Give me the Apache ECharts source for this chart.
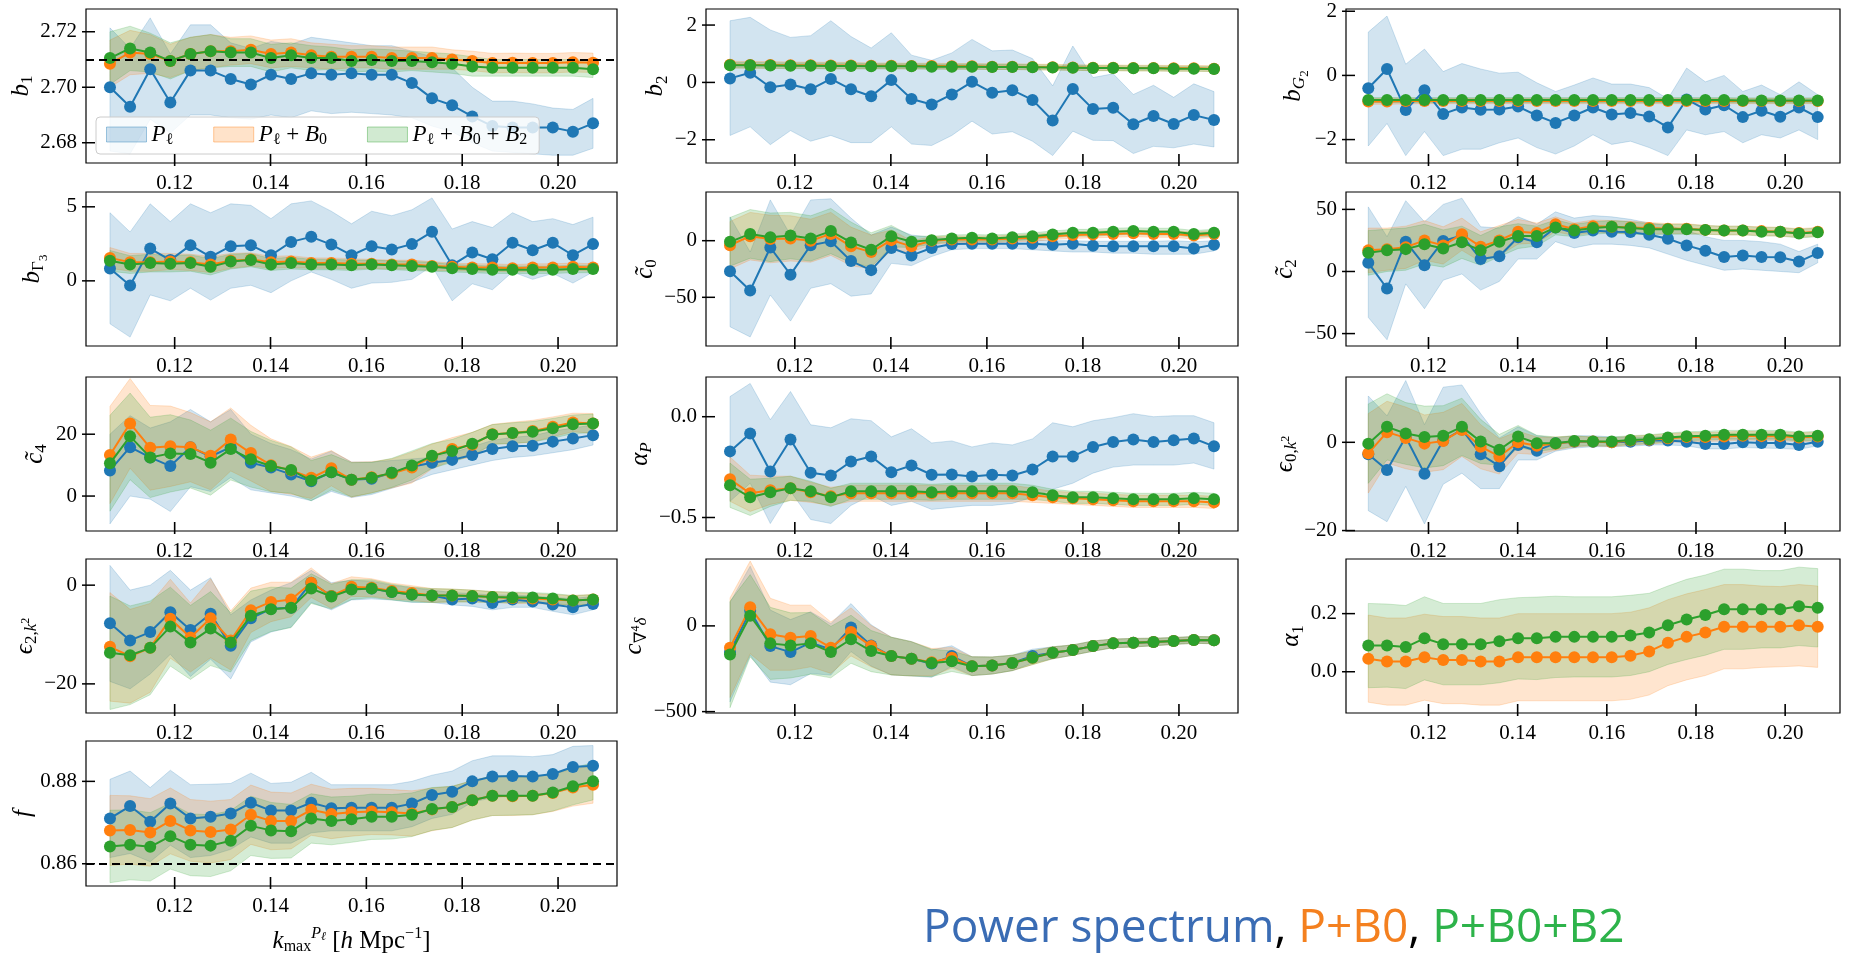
<!DOCTYPE html>
<html>
<head>
<meta charset="utf-8">
<script src="https://cdn.jsdelivr.net/npm/echarts@6/dist/echarts.min.js"></script>
<style>
html, body { margin: 0; background: #fff; }
#main { width: 1872px; height: 956px; }
</style>
</head>
<body>
<div id="main"></div>
<script>
// k_max values (h/Mpc), shared by every panel
var K = [0.1065,0.1107,0.1149,0.1191,0.1233,0.1275,0.1317,0.1359,0.1401,0.1443,0.1485,0.1527,0.1569,0.1611,0.1653,0.1695,0.1737,0.1779,0.1821,0.1863,0.1905,0.1947,0.1989,0.2031,0.2073];
var xTicks = [0.12, 0.14, 0.16, 0.18, 0.20];

// ---- b1
var b1Ticks = [2.68, 2.70, 2.72];
var b1True = 2.707;
var b1P   = [2.700,2.693,2.7065,2.6945,2.706,2.706,2.703,2.701,2.7045,2.703,2.705,2.7045,2.705,2.7045,2.7045,2.7015,2.696,2.6935,2.6895,2.686,2.6855,2.6855,2.6855,2.684,2.687];
var b1Plo = [2.677,2.676,2.6885,2.6835,2.690,2.690,2.689,2.6885,2.690,2.689,2.6915,2.6905,2.691,2.6905,2.690,2.689,2.686,2.684,2.680,2.677,2.6765,2.676,2.6755,2.6755,2.678];
var b1Phi = [2.7214,2.714,2.725,2.712,2.7225,2.7225,2.716,2.714,2.7165,2.7155,2.718,2.717,2.716,2.715,2.715,2.713,2.711,2.707,2.700,2.695,2.695,2.694,2.6925,2.692,2.696];
var b1B0  = [2.7085,2.7125,2.712,2.7095,2.712,2.713,2.713,2.7135,2.712,2.7125,2.7115,2.711,2.711,2.711,2.7105,2.7105,2.7105,2.710,2.7095,2.7087,2.7088,2.7087,2.7087,2.709,2.7088];
var b1B0e = [0.0085,0.008,0.007,0.006,0.006,0.006,0.005,0.005,0.005,0.005,0.0045,0.0045,0.004,0.004,0.004,0.004,0.004,0.0035,0.0035,0.0035,0.0035,0.0035,0.0035,0.0035,0.0035];
var b1B2  = [2.7105,2.714,2.7125,2.7095,2.712,2.713,2.7125,2.7125,2.7105,2.7115,2.7105,2.7105,2.7095,2.7098,2.7095,2.7095,2.709,2.7085,2.7075,2.707,2.707,2.707,2.707,2.707,2.7065];
var b1B2e = [0.0095,0.008,0.007,0.0065,0.006,0.006,0.005,0.005,0.005,0.0045,0.0045,0.004,0.004,0.004,0.004,0.0035,0.0035,0.0035,0.0035,0.003,0.003,0.003,0.003,0.003,0.003];

// ---- b2
var b2Ticks = [-2, 0, 2];
var b2P   = [0.14,0.34,-0.17,-0.07,-0.24,0.12,-0.24,-0.48,0.08,-0.58,-0.77,-0.42,0.02,-0.36,-0.27,-0.61,-1.33,-0.23,-0.93,-0.88,-1.46,-1.17,-1.45,-1.14,-1.31];
var b2Plo = [-1.85,-1.55,-2.17,-1.68,-2.05,-1.85,-2.1,-2.1,-1.55,-2.15,-2.2,-1.85,-1.35,-1.8,-1.72,-2.05,-2.55,-1.7,-2.02,-2.03,-2.48,-2.23,-2.28,-2.15,-2.25];
var b2Phi = [2.15,2.27,1.83,1.57,1.63,2.15,1.6,1.2,1.73,0.95,0.77,1.03,1.5,1.1,1.13,0.83,-0.12,1.27,0.17,0.3,-0.42,-0.1,-0.52,-0.05,-0.32];
var b2B0  = [0.62,0.61,0.61,0.6,0.6,0.59,0.59,0.58,0.58,0.57,0.57,0.56,0.56,0.55,0.55,0.54,0.53,0.52,0.51,0.51,0.5,0.5,0.49,0.49,0.48];
var b2B0e = [0.12,0.12,0.12,0.11,0.11,0.11,0.11,0.1,0.1,0.1,0.1,0.1,0.1,0.1,0.1,0.1,0.1,0.1,0.1,0.1,0.1,0.1,0.1,0.1,0.1];
var b2B2  = [0.6,0.6,0.59,0.58,0.58,0.57,0.57,0.56,0.56,0.56,0.55,0.55,0.55,0.54,0.54,0.53,0.52,0.51,0.5,0.5,0.49,0.49,0.48,0.48,0.47];
var b2B2e = [0.1,0.1,0.1,0.1,0.1,0.1,0.1,0.09,0.09,0.09,0.09,0.09,0.09,0.09,0.09,0.09,0.09,0.09,0.09,0.09,0.09,0.09,0.09,0.09,0.09];

// ---- bG2
var bG2Ticks = [-2, 0, 2];
var bG2P   = [-0.4,0.2,-1.08,-0.46,-1.2,-1.0,-1.07,-1.06,-0.97,-1.25,-1.48,-1.25,-1.0,-1.22,-1.17,-1.28,-1.62,-0.75,-1.06,-0.93,-1.3,-1.1,-1.29,-1.0,-1.3];
var bG2Plo = [-2.2,-1.5,-2.5,-1.75,-2.5,-2.3,-2.3,-2.1,-1.95,-2.25,-2.45,-2.2,-1.85,-2.15,-2.05,-2.25,-2.5,-1.7,-1.85,-1.75,-2.1,-1.85,-1.95,-1.7,-2.0];
var bG2Phi = [1.35,1.85,0.35,0.82,0.12,0.37,0.2,0.07,0.1,-0.23,-0.5,-0.3,-0.08,-0.27,-0.27,-0.38,-0.73,0.23,-0.2,0.0,-0.5,-0.3,-0.6,-0.2,-0.6];
var bG2B0  = [-0.81,-0.81,-0.8,-0.8,-0.8,-0.8,-0.8,-0.8,-0.8,-0.8,-0.8,-0.8,-0.8,-0.8,-0.8,-0.8,-0.8,-0.8,-0.8,-0.8,-0.8,-0.8,-0.8,-0.8,-0.8];
var bG2B0e = [0.09,0.09,0.09,0.08,0.08,0.08,0.08,0.08,0.08,0.08,0.08,0.08,0.08,0.08,0.08,0.08,0.08,0.08,0.08,0.08,0.08,0.08,0.08,0.08,0.08];
var bG2B2  = [-0.77,-0.77,-0.77,-0.77,-0.77,-0.77,-0.77,-0.77,-0.77,-0.77,-0.77,-0.77,-0.77,-0.77,-0.77,-0.77,-0.77,-0.77,-0.77,-0.77,-0.78,-0.78,-0.78,-0.78,-0.78];
var bG2B2e = [0.08,0.08,0.08,0.08,0.08,0.08,0.08,0.08,0.08,0.08,0.08,0.08,0.08,0.08,0.08,0.08,0.08,0.08,0.08,0.08,0.08,0.08,0.08,0.08,0.08];

// ---- bGamma3
var bGa3Ticks = [0, 5];
var bGa3P   = [0.83,-0.32,2.18,1.4,2.41,1.62,2.34,2.41,1.73,2.63,2.97,2.45,1.73,2.34,2.12,2.48,3.31,1.06,1.91,1.46,2.57,2.07,2.57,1.73,2.48];
var bGa3Plo = [-2.9,-3.8,-0.95,-1.35,-0.5,-1.3,-0.5,-0.3,-0.8,0.0,0.6,0.1,-0.5,-0.15,-0.1,0.1,1.0,-1.35,-0.2,-0.6,0.6,0.1,0.5,-0.15,0.6];
var bGa3Phi = [4.6,3.3,5.2,4.0,5.2,4.6,5.2,5.1,4.2,5.2,5.4,4.7,3.85,4.7,4.4,4.8,5.6,3.5,4.0,3.6,4.6,4.0,4.2,3.8,4.3];
var bGa3B0  = [1.55,1.25,1.25,1.3,1.25,1.1,1.35,1.45,1.25,1.3,1.2,1.2,1.15,1.15,1.1,1.1,1.0,0.95,0.9,0.9,0.85,0.9,0.9,0.95,0.9];
var bGa3B0e = [0.7,0.6,0.6,0.55,0.55,0.55,0.5,0.45,0.4,0.4,0.35,0.35,0.35,0.3,0.3,0.3,0.3,0.25,0.25,0.25,0.25,0.25,0.25,0.25,0.25];
var bGa3B2  = [1.35,1.1,1.2,1.15,1.2,0.95,1.3,1.4,1.1,1.2,1.1,1.1,1.05,1.1,1.05,1.0,0.95,0.85,0.8,0.75,0.75,0.75,0.75,0.8,0.8];
var bGa3B2e = [0.7,0.6,0.6,0.55,0.55,0.55,0.5,0.45,0.4,0.4,0.35,0.35,0.35,0.3,0.3,0.3,0.3,0.25,0.25,0.25,0.25,0.25,0.25,0.25,0.25];

// ---- c0
var c0Ticks = [-50, 0];
var c0P   = [-27,-44,-6,-30,-4,-0.6,-18,-26,-6.5,-13,-6.5,-3,-2.6,-2.6,-2.6,-2.6,-3.5,-2.6,-4.4,-5,-5,-5,-5,-6.8,-3.5];
var c0Plo = [-76,-85,-48,-71,-42,-38,-49,-47,-20,-22,-14,-8,-7,-7,-7,-8,-9,-10,-10,-11,-11,-12,-12,-12,-9];
var c0Phi = [21,-10,36,5,36,37,20,5,12,5,3,2,1.5,1,1,1,0,0,-0.5,-0.5,-0.5,-0.5,0,-1,0];
var c0B0  = [-4,4,1.5,2,0,6,-5,-10,0.5,-5,0,1,1,1,2,2.5,4,5,5.5,6,6.5,6,6,4.5,6];
var c0B0e = [21,21,21,20,19,19,17,15,9,5,3.5,3,3,3,3,3,3,3,3,3,3,3,3,3,3];
var c0B2  = [-1,6,3,4.5,2,8.5,-1.5,-8,4,-1,0.5,2,2.5,2,3,4,5.5,7,7,8,8.5,8,8,6,7];
var c0B2e = [21.5,21.5,21.5,20.5,20,20,18,15,9.5,5,3.5,3,3,3,3,3,3,3,3,3,3,3,3,3,3];

// ---- c2
var c2Ticks = [-50, 0, 50];
var c2P   = [7,-13.7,24,5,24.6,29,10,12.3,27.6,23.5,35.5,31,33,32,31.7,29.5,26.4,21,16.7,11.7,12.8,11.7,11.5,8,14.8];
var c2Plo = [-37,-55,-10,-30,-7,-2,-15,-8,10,10,24,19,22,22,21,19,14,9,5,1,2,1,0,-1,7];
var c2Phi = [52,28,57,40,54,59,36,35,44,38,48,43,45,44,42,39,37,33,28,25,25,24,22,16,22];
var c2B0  = [17,18,19.5,25,21,30,20,25,32,31,38,34,36.5,36,35.5,35,34.5,34.5,33.5,33,33,32.5,32,31,32];
var c2B0e = [18,17,17,16,15,13,12,12,10,8,6,5,5,5,5,4.5,4,4,3.5,3.5,3.5,3.5,3.5,3.5,3.5];
var c2B2  = [15,17,18,22,18.5,23.5,17,24,28.5,28.5,35.5,33,35,36,35,34,34,34,33.5,33,33,32,32,30.5,31.5];
var c2B2e = [18,17,17,16,15,13,12,12,10,8,6,5,5,5,5,4.5,4,4,3.5,3.5,3.5,3.5,3.5,3.5,3.5];

// ---- c4
var c4Ticks = [0, 20];
var c4P   = [8.3,15.8,12.5,9.7,15.8,12.8,15.8,10.8,9.2,7.0,4.8,7.7,5.3,5.6,7.5,9.5,10.8,11.7,13.3,15.2,16.1,16.3,17.6,18.6,19.7];
var c4Plo = [-9,0,-1,-5,3,1.5,6,2,1,0,-1.5,1.5,-0.5,0.5,2.5,4.5,7,8.5,10,11.5,12.5,13,14,15,16.5];
var c4Phi = [20,26,22,24,28,24,28,20,17,15,12,14.5,11,11,11.5,12,12.5,14,16,18,19,19.5,21,22,23];
var c4B0  = [13.3,23.5,15.6,16.1,15.8,13,18.3,13.9,10,8.3,5.9,9,5.3,6.1,7.3,9.2,12.8,15.2,16.6,20,20.4,21,22.4,23.8,23.5];
var c4B0e = [15.7,14.5,13.7,13,11.2,11,10.2,9,8.5,7.7,6.7,5.7,5.7,5,4.7,5,4,3.7,4,3.2,3.5,3.5,3.2,3,3.2];
var c4B2  = [10.6,19.3,12.5,13.8,13.6,10.8,15.2,11.9,9.7,8.4,5,7.7,5.3,5.9,7.5,9.9,13,14.6,16.9,19.9,20.4,20.8,21.9,23.2,23.5];
var c4B2e = [15.5,14,13,12.5,11,10.5,10,9,8.3,7.5,6.5,5.7,5.5,5,4.7,4.7,4,3.7,3.7,3.2,3.3,3.3,3.2,3,3];

// ---- alpha_P
var aPTicks = [-0.5, 0.0];
var aPP   = [-0.172,-0.083,-0.272,-0.113,-0.278,-0.292,-0.222,-0.197,-0.275,-0.242,-0.288,-0.287,-0.297,-0.288,-0.292,-0.262,-0.197,-0.197,-0.15,-0.125,-0.113,-0.125,-0.117,-0.108,-0.147];
var aPPlo = [-0.42,-0.33,-0.53,-0.37,-0.51,-0.53,-0.44,-0.39,-0.44,-0.42,-0.46,-0.45,-0.44,-0.44,-0.43,-0.4,-0.36,-0.33,-0.28,-0.25,-0.24,-0.24,-0.24,-0.23,-0.26];
var aPPhi = [0.1,0.165,-0.015,0.125,-0.04,-0.055,-0.01,-0.02,-0.1,-0.06,-0.13,-0.12,-0.15,-0.13,-0.14,-0.11,-0.03,-0.05,-0.02,-0.005,0.015,0.0,0.005,0.005,-0.03];
var aPB0  = [-0.31,-0.38,-0.365,-0.355,-0.375,-0.395,-0.38,-0.38,-0.38,-0.38,-0.38,-0.38,-0.38,-0.38,-0.38,-0.39,-0.4,-0.405,-0.41,-0.415,-0.42,-0.42,-0.42,-0.42,-0.425];
var aPB0e = [0.11,0.09,0.07,0.06,0.05,0.045,0.04,0.04,0.04,0.04,0.04,0.04,0.04,0.04,0.04,0.035,0.03,0.03,0.03,0.03,0.03,0.03,0.03,0.03,0.03];
var aPB2  = [-0.34,-0.4,-0.375,-0.355,-0.37,-0.4,-0.37,-0.37,-0.37,-0.37,-0.375,-0.37,-0.37,-0.37,-0.37,-0.375,-0.39,-0.4,-0.4,-0.405,-0.41,-0.41,-0.41,-0.405,-0.41];
var aPB2e = [0.11,0.09,0.07,0.06,0.05,0.045,0.04,0.04,0.04,0.04,0.04,0.04,0.04,0.04,0.04,0.035,0.03,0.03,0.03,0.03,0.03,0.03,0.03,0.03,0.03];

// ---- eps_{0,k^2}
var e0Ticks = [-20, 0];
var e0P   = [-2.7,-6.3,1.2,-7.1,0.4,2.9,-2.7,-5.4,-0.6,-1.9,-0.2,0.15,0.15,0,0.15,0.4,0.4,0.15,-0.4,-0.4,0,-0.15,-0.15,-0.6,0.15];
var e0Plo = [-15.5,-18,-10,-18.5,-9.5,-7,-10.5,-10.5,-4,-4,-2,-1.3,-1,-1,-0.9,-0.6,-0.6,-0.8,-1.5,-1.5,-1.2,-1.3,-1.4,-1.6,-0.8];
var e0Phi = [10.5,6,14,4,12.5,13,6.5,1,3.5,1.5,1.0,1.5,1.5,1.2,1.2,1.2,1.3,1.3,1.0,1.0,1.0,1.0,1.0,0.7,1.0];
var e0B0  = [-2.5,2.3,1.0,-0.3,0.3,2.8,-1.0,-3.2,0.0,-0.8,-0.3,0.2,0.2,0.0,0.4,0.6,0.9,1.2,1.2,1.3,1.5,1.4,1.4,1.1,1.3];
var e0B0e = [9,7,7,6.5,6.5,6,5,4,2.5,2,1.5,1.2,1,1,1,1,1,1,1,1,1,1,1,1,1];
var e0B2  = [-0.3,3.5,2.0,1.2,1.5,3.5,0.2,-1.7,1.3,-0.2,-0.2,0.3,0.2,0.2,0.5,0.7,1.1,1.4,1.5,1.7,1.7,1.7,1.7,1.3,1.5];
var e0B2e = [9,7.5,7,7,6.8,6.5,5,3.5,2.5,1.8,1.4,1.2,1,1,1,1,1,1,1,1,1,1,1,1,1];

// ---- eps_{2,k^2}
var e2Ticks = [-20, 0];
var e2P   = [-7.7,-11.2,-9.5,-5.5,-9.1,-5.8,-12.3,-6.7,-4.8,-4.6,0.5,-2.2,-0.7,-0.7,-1.4,-1.9,-2.1,-2.9,-2.7,-3.6,-2.9,-3.3,-3.9,-4.5,-3.8];
var e2Plo = [-19.5,-21,-18,-14,-18.5,-15,-19,-11.5,-9.5,-8.5,-3.5,-5,-3,-2.8,-3,-3.5,-3.5,-4,-4.3,-5,-4.5,-4.5,-5.3,-6,-5];
var e2Phi = [4,-1,0,3,-1,1.5,-6,-3,-1,0.5,3,0.5,1,0.8,0,-0.5,-1,-1.5,-1.7,-2,-2,-2.2,-2.5,-2.7,-2.3];
var e2B0  = [-12.5,-14.4,-12.7,-6.8,-10.6,-6.7,-11.2,-5.1,-3.4,-2.9,0.5,-2.2,-0.3,-0.5,-1.2,-1.6,-2.1,-2.1,-2.2,-2.4,-2.6,-2.7,-2.9,-3.1,-2.9];
var e2B0e = [11,9.5,9,8,7,8,6,4.5,4,3.5,3,2.5,2,1.8,1.6,1.5,1.4,1.3,1.2,1.1,1.1,1,1,1,1];
var e2B2  = [-13.7,-14.2,-12.7,-8.4,-11.6,-8.8,-11.6,-6.2,-4.9,-4.6,-0.7,-2.3,-0.9,-0.7,-1.4,-1.9,-2.1,-2.1,-2.2,-2.4,-2.5,-2.5,-2.7,-3.1,-2.9];
var e2B2e = [11.5,10,9.5,8,7.5,7.5,6,5,4.5,4,3,2.5,2,1.8,1.6,1.5,1.4,1.3,1.2,1.1,1.1,1,1,1,1];

// ---- c_{nabla^4 delta}
var cdTicks = [-500, 0];
var cdP   = [-153,88,-118,-153,-98,-137,-10,-114,-176,-192,-220,-176,-235,-231,-216,-176,-157,-141,-118,-102,-98,-94,-88,-82,-84];
var cdPlo = [-443,-172,-328,-343,-278,-287,-150,-234,-286,-292,-300,-236,-290,-281,-261,-216,-192,-171,-148,-127,-123,-116,-108,-102,-104];
var cdPhi = [137,348,92,37,82,13,130,6,-66,-92,-140,-116,-180,-181,-171,-136,-122,-111,-88,-77,-73,-72,-68,-62,-64];
var cdB0  = [-127,108,-49,-69,-59,-127,-35,-118,-176,-192,-212,-186,-235,-231,-216,-186,-157,-141,-118,-102,-98,-94,-88,-82,-84];
var cdB0e = [290,270,210,190,180,150,140,120,110,100,80,60,55,50,45,40,35,30,30,25,25,22,20,20,20];
var cdB2  = [-167,59,-102,-114,-102,-153,-78,-147,-176,-192,-216,-206,-235,-231,-216,-186,-157,-141,-118,-102,-98,-94,-88,-82,-84];
var cdB2e = [310,240,210,190,180,150,140,120,110,100,80,60,55,50,45,40,35,30,30,25,25,22,20,20,20];

// ---- alpha_1 (no power-spectrum-only fit)
var a1Ticks = [0.0, 0.2];
var a1B0  = [0.045,0.035,0.035,0.05,0.04,0.04,0.035,0.035,0.05,0.05,0.05,0.05,0.05,0.05,0.055,0.07,0.1,0.12,0.135,0.155,0.155,0.155,0.155,0.16,0.155];
var a1B0e = [0.15,0.15,0.15,0.148,0.15,0.15,0.15,0.15,0.15,0.15,0.15,0.15,0.15,0.15,0.15,0.15,0.148,0.148,0.148,0.145,0.145,0.14,0.138,0.14,0.14];
var a1B2  = [0.09,0.09,0.085,0.115,0.095,0.095,0.095,0.105,0.115,0.115,0.12,0.12,0.12,0.12,0.125,0.135,0.16,0.18,0.195,0.215,0.215,0.215,0.215,0.225,0.22];
var a1B2e = [0.145,0.143,0.143,0.143,0.14,0.14,0.14,0.143,0.14,0.142,0.14,0.138,0.138,0.138,0.138,0.135,0.135,0.138,0.138,0.138,0.138,0.133,0.133,0.135,0.135];

// ---- f
var fTicks = [0.86, 0.88];
var fTrue = 0.8613;
var fP   = [0.871,0.874,0.8702,0.8746,0.871,0.8714,0.8722,0.8748,0.8729,0.8729,0.8748,0.8735,0.8736,0.8736,0.8736,0.8746,0.8767,0.8775,0.88,0.8812,0.8813,0.8812,0.8818,0.8835,0.8838];
var fPlo = [0.8615,0.8625,0.8605,0.8645,0.8615,0.862,0.8635,0.8665,0.865,0.865,0.8675,0.868,0.868,0.868,0.868,0.869,0.871,0.872,0.875,0.876,0.8765,0.8765,0.877,0.8785,0.879];
var fPhi = [0.8805,0.8825,0.8785,0.8827,0.8792,0.8793,0.8795,0.882,0.8795,0.8798,0.8822,0.8792,0.8792,0.8792,0.8792,0.88,0.8815,0.8825,0.885,0.8862,0.8862,0.886,0.8865,0.8885,0.8887];
var fB0  = [0.8681,0.8682,0.8676,0.8704,0.8681,0.8677,0.8683,0.8719,0.8704,0.8704,0.8731,0.8721,0.8725,0.8727,0.8725,0.8722,0.8732,0.8738,0.8754,0.8765,0.8764,0.8765,0.8772,0.8785,0.8792];
var fB0e = [0.0085,0.0083,0.0082,0.008,0.0075,0.0075,0.0073,0.0072,0.007,0.0068,0.0062,0.006,0.0058,0.0056,0.0055,0.0055,0.0052,0.005,0.0048,0.0048,0.0047,0.0046,0.0045,0.0045,0.0045];
var fB2  = [0.8642,0.8646,0.8641,0.8667,0.8646,0.8644,0.8656,0.8692,0.8681,0.8679,0.871,0.8704,0.8708,0.8714,0.8714,0.8719,0.8733,0.8738,0.8754,0.8765,0.8765,0.8765,0.8773,0.8788,0.88];
var fB2e = [0.0088,0.0085,0.0083,0.008,0.0075,0.0075,0.0073,0.0072,0.0068,0.0065,0.006,0.0058,0.0056,0.0055,0.0054,0.0053,0.0052,0.005,0.0048,0.0048,0.0047,0.0046,0.0045,0.0045,0.0045];

// ------------------------------------------------------------------
var SERIF = "'Liberation Serif', 'DejaVu Serif', serif";
var COLORS = { P: '#1f77b4', B0: '#ff7f0e', B2: '#2ca02c' };
var NAMES = { P: 'P', B0: 'P+B0', B2: 'P+B0+B2' };
var X_MIN = 0.1015, X_MAX = 0.2123;

var colLeft = [86, 706, 1346];
var colWidth = [531, 532, 494];
var rowTop = [9, 192, 377, 559, 741];
var rowHeight = 154;

var panels = [
  { r: 0, c: 0, name: '{i|b}{s|1}', gap: 46, min: 2.6727, max: 2.7282, ticks: b1Ticks, dec: 2,
    P: [b1P, b1Plo, b1Phi], B0: [b1B0, b1B0e], B2: [b1B2, b1B2e], ref: b1True },
  { r: 0, c: 1, name: '{i|b}{s|2}', gap: 17, min: -2.81, max: 2.56, ticks: b2Ticks, dec: 0,
    P: [b2P, b2Plo, b2Phi], B0: [b2B0, b2B0e], B2: [b2B2, b2B2e] },
  { r: 0, c: 2, name: '{i|b}{si|G}{ss|2}', gap: 27, min: -2.73, max: 2.07, ticks: bG2Ticks, dec: 0,
    P: [bG2P, bG2Plo, bG2Phi], B0: [bG2B0, bG2B0e], B2: [bG2B2, bG2B2e] },
  { r: 1, c: 0, name: '{i|b}{s|Γ}{ss|3}', gap: 36, min: -4.4, max: 6.0, ticks: bGa3Ticks, dec: 0,
    P: [bGa3P, bGa3Plo, bGa3Phi], B0: [bGa3B0, bGa3B0e], B2: [bGa3B2, bGa3B2e] },
  { r: 1, c: 1, name: '{i|c\u0303}{s|0}', gap: 31, min: -93, max: 43, ticks: c0Ticks, dec: 0,
    P: [c0P, c0Plo, c0Phi], B0: [c0B0, c0B0e], B2: [c0B2, c0B2e] },
  { r: 1, c: 2, name: '{i|c\u0303}{s|2}', gap: 26, min: -60, max: 64, ticks: c2Ticks, dec: 0,
    P: [c2P, c2Plo, c2Phi], B0: [c2B0, c2B0e], B2: [c2B2, c2B2e] },
  { r: 2, c: 0, name: '{i|c\u0303}{s|4}', gap: 36, min: -11.3, max: 38.5, ticks: c4Ticks, dec: 0,
    P: [c4P, c4Plo, c4Phi], B0: [c4B0, c4B0e], B2: [c4B2, c4B2e] },
  { r: 2, c: 1, name: '{i|α}{si|P}', gap: 31, min: -0.567, max: 0.197, ticks: aPTicks, dec: 1,
    P: [aPP, aPPlo, aPPhi], B0: [aPB0, aPB0e], B2: [aPB2, aPB2e] },
  { r: 2, c: 2, name: '{i|ϵ}{s|0,}{si|k}{sp|2}', gap: 27, min: -20.1, max: 14.8, ticks: e0Ticks, dec: 0,
    P: [e0P, e0Plo, e0Phi], B0: [e0B0, e0B0e], B2: [e0B2, e0B2e] },
  { r: 3, c: 0, name: '{i|ϵ}{s|2,}{si|k}{sp|2}', gap: 40, min: -25.9, max: 5.3, ticks: e2Ticks, dec: 0,
    P: [e2P, e2Plo, e2Phi], B0: [e2B0, e2B0e], B2: [e2B2, e2B2e] },
  { r: 3, c: 1, name: '{i|c}{s|∇}{sp|4}{si|δ}', gap: 33, min: -508, max: 390, ticks: cdTicks, dec: 0,
    P: [cdP, cdPlo, cdPhi], B0: [cdB0, cdB0e], B2: [cdB2, cdB2e] },
  { r: 3, c: 2, name: '{i|α}{s|1}', gap: 27, min: -0.142, max: 0.388, ticks: a1Ticks, dec: 1,
    P: null, B0: [a1B0, a1B0e], B2: [a1B2, a1B2e] },
  { r: 4, c: 0, name: '{i|f}', gap: 44, min: 0.8546, max: 0.8898, ticks: fTicks, dec: 2,
    P: [fP, fPlo, fPhi], B0: [fB0, fB0e], B2: [fB2, fB2e], ref: fTrue, xname: true }
];

var nameRich = {
  i:  { fontFamily: SERIF, fontSize: 25, fontStyle: 'italic', color: '#000' },
  s:  { fontFamily: SERIF, fontSize: 17, color: '#000', padding: [13, 0, 0, 0] },
  si: { fontFamily: SERIF, fontSize: 17, fontStyle: 'italic', color: '#000', padding: [13, 0, 0, 0] },
  ss: { fontFamily: SERIF, fontSize: 13, color: '#000', padding: [22, 0, 0, 0] },
  sp: { fontFamily: SERIF, fontSize: 12, color: '#000', padding: [2, 0, 0, 0] },
  sb: { fontFamily: SERIF, fontSize: 16, color: '#000', padding: [12, 0, 0, 0] },
  up: { fontFamily: SERIF, fontSize: 16, fontStyle: 'italic', color: '#000', padding: [0, 0, 14, 0] },
  ups:{ fontFamily: SERIF, fontSize: 12, fontStyle: 'italic', color: '#000', padding: [0, 0, 8, 0] },
  upr:{ fontFamily: SERIF, fontSize: 16, color: '#000', padding: [0, 0, 14, 0] },
  r:  { fontFamily: SERIF, fontSize: 25, color: '#000' }
};

function fmt(dec) {
  return function (v) {
    var s = Math.abs(v).toFixed(dec);
    return (v < -1e-9 ? '\u2212' : '') + s;
  };
}

function bandSeries(gi, key, lo, hi) {
  var color = COLORS[key];
  var data = K.map(function (k, i) { return [k, lo[i], hi[i]]; });
  return {
    type: 'custom',
    name: NAMES[key],
    xAxisIndex: gi,
    yAxisIndex: gi,
    z: 1,
    silent: true,
    clip: true,
    itemStyle: { color: color },
    encode: { x: 0, y: [1, 2] },
    data: data,
    renderItem: function (params, api) {
      if (params.dataIndex !== 0) return;
      var top = [], bot = [];
      for (var i = 0; i < data.length; i++) {
        top.push(api.coord([data[i][0], data[i][2]]));
        bot.push(api.coord([data[i][0], data[i][1]]));
      }
      return {
        type: 'polygon',
        shape: { points: top.concat(bot.reverse()) },
        style: { fill: color, stroke: color, lineWidth: 1, opacity: 0.2 }
      };
    }
  };
}

function lineSeries(gi, key, mean, z) {
  var color = COLORS[key];
  return {
    type: 'line',
    name: NAMES[key] + ' fit',
    xAxisIndex: gi,
    yAxisIndex: gi,
    z: z,
    silent: true,
    data: K.map(function (k, i) { return [k, mean[i]]; }),
    symbol: 'circle',
    symbolSize: 12,
    showSymbol: true,
    lineStyle: { width: 2, color: color },
    itemStyle: { color: color }
  };
}

// y tick marks of one panel, placed through the axis scales
function yTickSeries(gi, p) {
  return {
    type: 'custom',
    name: 'yticks',
    xAxisIndex: gi,
    yAxisIndex: gi,
    z: 10,
    silent: true,
    clip: false,
    encode: { x: 0, y: 1 },
    data: p.ticks.map(function (v) { return [X_MIN, v]; }),
    renderItem: function (params, api) {
      var pt = api.coord([api.value(0), api.value(1)]);
      return { type: 'rect', shape: { x: pt[0] - 4, y: pt[1] - 0.75, width: 13, height: 1.5 }, style: { fill: '#000' } };
    }
  };
}

var grids = [], xAxes = [], yAxes = [], series = [];

panels.forEach(function (p, gi) {
  grids.push({
    left: colLeft[p.c], top: rowTop[p.r], width: colWidth[p.c], height: rowHeight,
    show: true, borderColor: '#000', borderWidth: 1.2, backgroundColor: 'transparent'
  });
  var xa = {
    gridIndex: gi, type: 'value', min: X_MIN, max: X_MAX, position: 'bottom',
    axisLine: { show: false, onZero: false },
    splitLine: { show: false },
    axisTick: { show: false },
    axisLabel: { customValues: xTicks, formatter: fmt(2), fontFamily: SERIF, fontSize: 21, color: '#000', margin: 10 }
  };
  if (p.xname) {
    xa.name = '{i|k}{sb|max}{up|P}{ups|ℓ}{r| [}{i|h}{r| Mpc}{upr|\u22121}{r|]}';
    xa.nameLocation = 'middle';
    xa.nameGap = 40;
    xa.nameTextStyle = { rich: nameRich };
  }
  xAxes.push(xa);
  yAxes.push({
    gridIndex: gi, type: 'value', min: p.min, max: p.max, position: 'left',
    axisLine: { show: false, onZero: false },
    splitLine: { show: false },
    axisTick: { show: false },
    axisLabel: { customValues: p.ticks, formatter: fmt(p.dec), fontFamily: SERIF, fontSize: 21, color: '#000', margin: 9 },
    name: p.name, nameLocation: 'middle', nameRotate: 90, nameGap: p.gap,
    nameTextStyle: { rich: nameRich }
  });

  if (p.P) series.push(bandSeries(gi, 'P', p.P[1], p.P[2]));
  var lo0 = p.B0[0].map(function (v, i) { return v - p.B0[1][i]; });
  var hi0 = p.B0[0].map(function (v, i) { return v + p.B0[1][i]; });
  series.push(bandSeries(gi, 'B0', lo0, hi0));
  var lo2 = p.B2[0].map(function (v, i) { return v - p.B2[1][i]; });
  var hi2 = p.B2[0].map(function (v, i) { return v + p.B2[1][i]; });
  series.push(bandSeries(gi, 'B2', lo2, hi2));

  if (p.P) series.push(lineSeries(gi, 'P', p.P[0], 2));
  series.push(lineSeries(gi, 'B0', p.B0[0], 3));
  var top = lineSeries(gi, 'B2', p.B2[0], 4);
  if (p.ref !== undefined) {
    top.markLine = {
      silent: true, symbol: 'none', label: { show: false }, animation: false,
      lineStyle: { color: '#000', width: 2, type: [8, 5] },
      data: [{ yAxis: p.ref }]
    };
  }
  series.push(top);
  series.push(yTickSeries(gi, p));
});

var legRich = {
  i: { fontFamily: SERIF, fontSize: 23, fontStyle: 'italic', color: '#000' },
  s: { fontFamily: SERIF, fontSize: 16, color: '#000', padding: [11, 0, 0, 0] },
  r: { fontFamily: SERIF, fontSize: 23, color: '#000' }
};
var LEG = {
  'P': '{i|P}{s|ℓ}',
  'P+B0': '{i|P}{s|ℓ}{r| + }{i|B}{s|0}',
  'P+B0+B2': '{i|P}{s|ℓ}{r| + }{i|B}{s|0}{r| + }{i|B}{s|2}'
};

var caption = {
  type: 'text', left: 923, top: 906, z: 30,
  style: {
    text: '{b|Power spectrum}{k|, }{o|P+B0}{k|, }{g|P+B0+B2}',
    rich: {
      b: { fill: '#3a6cb4', fontSize: 46, fontFamily: "'Open Sans', 'Noto Sans', sans-serif" },
      k: { fill: '#000000', fontSize: 46, fontFamily: "'Open Sans', 'Noto Sans', sans-serif" },
      o: { fill: '#f4801f', fontSize: 46, fontFamily: "'Open Sans', 'Noto Sans', sans-serif" },
      g: { fill: '#2db34a', fontSize: 46, fontFamily: "'Open Sans', 'Noto Sans', sans-serif" }
    }
  }
};

var chart = echarts.init(document.getElementById('main'));
chart.setOption({
  animation: false,
  backgroundColor: '#fff',
  grid: grids,
  xAxis: xAxes,
  yAxis: yAxes,
  legend: {
    left: 96, top: 117, orient: 'horizontal', z: 20,
    selectedMode: false,
    itemWidth: 40, itemHeight: 15, itemGap: 40,
    padding: [6, 12, 6, 10],
    backgroundColor: 'rgba(255,255,255,0.8)',
    borderColor: '#cccccc', borderWidth: 1, borderRadius: 4,
    data: [
      { name: 'P', icon: 'rect', itemStyle: { color: 'rgba(31,119,180,0.22)', borderColor: 'rgba(31,119,180,0.4)', borderWidth: 1 } },
      { name: 'P+B0', icon: 'rect', itemStyle: { color: 'rgba(255,127,14,0.22)', borderColor: 'rgba(255,127,14,0.4)', borderWidth: 1 } },
      { name: 'P+B0+B2', icon: 'rect', itemStyle: { color: 'rgba(44,160,44,0.22)', borderColor: 'rgba(44,160,44,0.4)', borderWidth: 1 } }
    ],
    formatter: function (name) { return LEG[name]; },
    textStyle: { rich: legRich }
  },
  graphic: [caption],
  series: series
});

// x tick marks: positions converted through each grid's own scales
var tickMarks = [caption];
panels.forEach(function (p, gi) {
  xTicks.forEach(function (v) {
    var pt = chart.convertToPixel({ gridIndex: gi }, [v, p.min]);
    if (!pt) return;
    tickMarks.push({
      type: 'line', z: 100, silent: true,
      shape: { x1: pt[0], y1: pt[1] + 3, x2: pt[0], y2: pt[1] - 9 },
      style: { stroke: '#000', lineWidth: 1.6 }
    });
  });
});
chart.setOption({ graphic: tickMarks });

window.onresize = function () { chart.resize(); };
</script>
</body>
</html>
